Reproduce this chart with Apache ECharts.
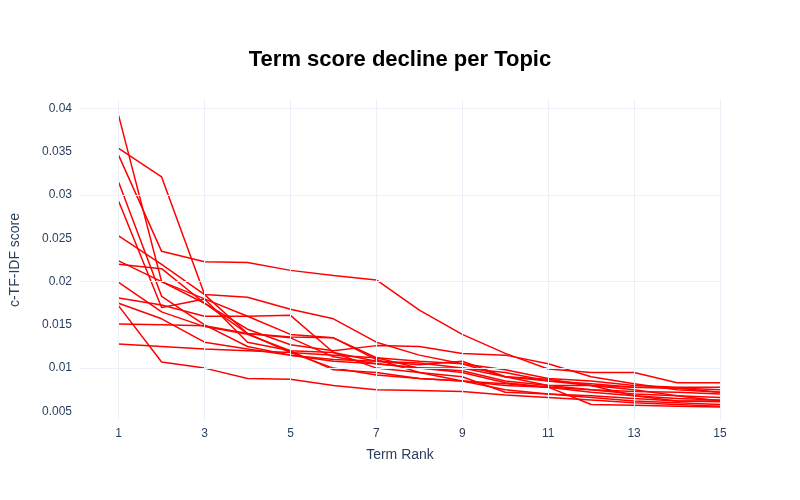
<!DOCTYPE html>
<html>
<head>
<meta charset="UTF-8">
<script src="https://cdn.jsdelivr.net/npm/echarts@6/dist/echarts.min.js"></script>
</head>
<body style="margin:0">
<div id="chart" style="width:800px;height:500px;"></div>
<script>
var ranks = [1,2,3,4,5,6,7,8,9,10,11,12,13,14,15];
var topic0  = [0.0354,0.0321,0.0185,0.0140,0.0118,0.0100,0.0092,0.0088,0.0085,0.0075,0.0070,0.0066,0.0062,0.0060,0.0058];
var topic1  = [0.0392,0.0200,0.0180,0.0160,0.0161,0.0118,0.0100,0.0095,0.0090,0.0072,0.0070,0.0068,0.0065,0.0062,0.0061];
var topic2  = [0.0346,0.0235,0.0223,0.0222,0.0213,0.0207,0.0202,0.0167,0.0139,0.0117,0.0099,0.0095,0.0095,0.0083,0.0083];
var topic3  = [0.0315,0.0183,0.0150,0.0125,0.0115,0.0110,0.0108,0.0106,0.0100,0.0095,0.0085,0.0082,0.0078,0.0077,0.0075];
var topic4  = [0.0293,0.0170,0.0180,0.0130,0.0120,0.0098,0.0095,0.0088,0.0085,0.0080,0.0078,0.0072,0.0068,0.0062,0.0062];
var topic5  = [0.0253,0.0220,0.0185,0.0182,0.0168,0.0157,0.0130,0.0115,0.0105,0.0090,0.0085,0.0080,0.0078,0.0077,0.0072];
var topic6  = [0.0224,0.0200,0.0175,0.0140,0.0135,0.0113,0.0105,0.0100,0.0097,0.0085,0.0080,0.0080,0.0075,0.0068,0.0062];
var topic7  = [0.0220,0.0215,0.0175,0.0145,0.0127,0.0120,0.0126,0.0125,0.0117,0.0115,0.0105,0.0090,0.0082,0.0075,0.0072];
var topic8  = [0.0199,0.0165,0.0148,0.0139,0.0120,0.0118,0.0108,0.0104,0.0108,0.0090,0.0080,0.0075,0.0070,0.0068,0.0066];
var topic9  = [0.0181,0.0173,0.0160,0.0160,0.0139,0.0135,0.0112,0.0100,0.0100,0.0090,0.0087,0.0080,0.0068,0.0065,0.0063];
var topic10 = [0.0175,0.0157,0.0130,0.0122,0.0115,0.0108,0.0105,0.0100,0.0095,0.0083,0.0078,0.0058,0.0057,0.0056,0.0055];
var topic11 = [0.0172,0.0107,0.0100,0.0088,0.0087,0.0080,0.0075,0.0074,0.0073,0.0069,0.0066,0.0063,0.0060,0.0058,0.0056];
var topic12 = [0.0151,0.0150,0.0149,0.0140,0.0136,0.0135,0.0110,0.0095,0.0085,0.0082,0.0078,0.0075,0.0073,0.0072,0.0070];
var topic13 = [0.0128,0.0125,0.0122,0.0120,0.0118,0.0115,0.0112,0.0108,0.0105,0.0098,0.0088,0.0085,0.0080,0.0078,0.0078];
var topics = [topic0,topic1,topic2,topic3,topic4,topic5,topic6,topic7,topic8,topic9,topic10,topic11,topic12,topic13];

var chart = echarts.init(document.getElementById('chart'));
chart.setOption({
    animation: false,
    title: {
        text: 'Term score decline per Topic',
        left: 'center', top: 44,
        textStyle: { fontFamily: 'Arial', fontSize: 22, fontWeight: 'bold', color: '#000' }
    },
    grid: { left: 80, right: 80, top: 100, bottom: 80 },
    xAxis: {
        type: 'value', min: 0.1, max: 15, interval: 2,
        name: 'Term Rank', nameLocation: 'middle', nameGap: 28,
        nameTextStyle: { fontFamily: 'Arial', fontSize: 14, color: '#2a3f5f' },
        axisLine: { show: false }, axisTick: { show: false },
        axisLabel: { fontFamily: 'Arial', fontSize: 12, color: '#2a3f5f',
            customValues: [1,3,5,7,9,11,13,15] },
        splitLine: { show: false }
    },
    yAxis: {
        type: 'value', min: 0.004, max: 0.041,
        name: 'c-TF-IDF score', nameLocation: 'middle', nameGap: 58,
        nameTextStyle: { fontFamily: 'Arial', fontSize: 14, color: '#2a3f5f' },
        axisLine: { show: false }, axisTick: { show: false },
        axisLabel: { fontFamily: 'Arial', fontSize: 12, color: '#2a3f5f',
            customValues: [0.005,0.01,0.015,0.02,0.025,0.03,0.035,0.04] },
        splitLine: { show: false }
    },
    series: [{
        type: 'line', silent: true, symbol: 'none',
        data: [],
        markLine: {
            silent: true, symbol: 'none', label: { show: false },
            lineStyle: { color: '#ebf0f8', type: 'solid', width: 1 },
            data: [1,3,5,7,9,11,13,15].map(function (v) { return { xAxis: v }; })
                .concat([0.005,0.01,0.015,0.02,0.025,0.03,0.035,0.04].map(function (v) { return { yAxis: v }; }))
        }
    }].concat(topics.map(function (vals) {
        return {
            type: 'line', symbol: 'none',
            lineStyle: { color: '#ff0000', width: 1.5 },
            data: ranks.map(function (r, i) { return [r, vals[i]]; })
        };
    }))
});
</script>
</body>
</html>
